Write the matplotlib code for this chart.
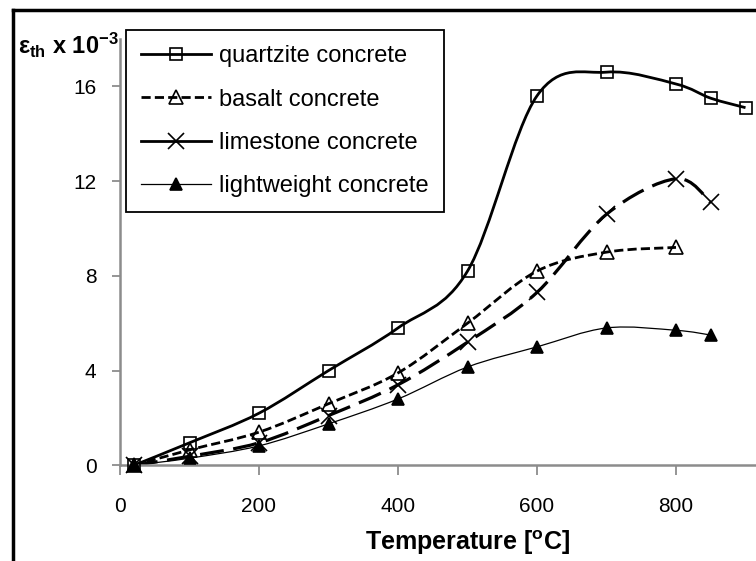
import numpy as np
import matplotlib
matplotlib.use("Agg")
import matplotlib.pyplot as plt
from matplotlib.path import Path
from matplotlib.patches import PathPatch
from matplotlib.lines import Line2D

plt.rcParams.update({
    'font.family': ['Liberation Sans', 'DejaVu Sans'],
    'mathtext.fontset': 'custom',
    'mathtext.rm': 'Liberation Sans',
    'mathtext.bf': 'Liberation Sans:bold',
    'mathtext.it': 'Liberation Sans:italic',
})

# ---- data ----
temp_quartzite = [20, 100, 200, 300, 400, 500, 600, 700, 800, 850, 900]
eps_quartzite = [0.0, 0.95, 2.2, 4.0, 5.8, 8.2, 15.6, 16.6, 16.1, 15.5, 15.1]

temp_basalt = [20, 100, 200, 300, 400, 500, 600, 700, 800]
eps_basalt = [0.0, 0.65, 1.4, 2.6, 3.9, 6.0, 8.2, 9.0, 9.2]

temp_limestone = [20, 100, 200, 300, 400, 500, 600, 700, 800, 850]
eps_limestone = [0.0, 0.38, 0.95, 2.1, 3.4, 5.2, 7.3, 10.6, 12.1, 11.1]

temp_light = [20, 100, 200, 300, 400, 500, 600, 700, 800, 850]
eps_light = [0.0, 0.3, 0.82, 1.75, 2.8, 4.15, 5.0, 5.8, 5.7, 5.5]

labels = ["quartzite concrete", "basalt concrete",
          "limestone concrete", "lightweight concrete"]

x_ticks = [0, 200, 400, 600, 800]
y_ticks = [0, 4, 8, 12, 16]


def smooth_path(xs, ys):
    # Excel-like smoothed line: Catmull-Rom segments as cubic Bezier
    pts = np.column_stack([xs, ys]).astype(float)
    n = len(pts)
    verts = [pts[0]]
    codes = [Path.MOVETO]
    for i in range(n - 1):
        p0 = pts[max(i - 1, 0)]
        p1 = pts[i]
        p2 = pts[i + 1]
        p3 = pts[min(i + 2, n - 1)]
        verts += [p1 + (p2 - p0) / 6.0, p2 - (p3 - p1) / 6.0, p2]
        codes += [Path.CURVE4] * 3
    return Path(verts, codes)


styles = [
    dict(lw=2.0, ls='-', marker='s', ms=9, mfc='none', leg_ls='-'),
    dict(lw=2.0, ls=(0, (3.3, 1.5)), marker='^', ms=10, mfc='none',
         leg_ls=(0, (3.3, 1.5))),
    dict(lw=2.3, ls=(0, (7.5, 3.0)), marker='x', ms=11, mfc='none', leg_ls='-'),
    dict(lw=0.9, ls='-', marker='^', ms=9, mfc='black', leg_ls='-'),
]
series = [(temp_quartzite, eps_quartzite), (temp_basalt, eps_basalt),
          (temp_limestone, eps_limestone), (temp_light, eps_light)]

W, H = 756, 561
fig = plt.figure(figsize=(W / 100, H / 100), dpi=100)
ax = fig.add_axes([120 / W, 1 - 465.3 / H, (815 - 120) / W, (465.3 - 39) / H])

handles = []
for (tx, ey), st, lab in zip(series, styles, labels):
    patch = PathPatch(smooth_path(tx, ey), fill=False, edgecolor='black',
                      lw=st['lw'], linestyle=st['ls'], capstyle='butt', zorder=2)
    ax.add_patch(patch)
    ax.plot(tx, ey, ls='none', marker=st['marker'], ms=st['ms'],
            mfc=st['mfc'], mec='black', mew=1.2, zorder=3, clip_on=False)
    handles.append(Line2D([], [], color='black', lw=min(st['lw'], 2.0),
                          ls=st['leg_ls'], marker=st['marker'], ms=st['ms'],
                          mfc=st['mfc'], mec='black', mew=1.2))

ax.set_xlim(0, 1000)
ax.set_ylim(0, 18)
ax.set_xticks(x_ticks)
ax.set_yticks(y_ticks)
ax.tick_params(axis='x', labelsize=15, length=7, width=1.3, color='#8c8c8c', pad=16)
ax.tick_params(axis='y', labelsize=15, length=6, width=1.3, color='#8c8c8c', pad=11)

for s in ["top", "right"]:
    ax.spines[s].set_visible(False)
for s in ["left", "bottom"]:
    ax.spines[s].set_color('#8c8c8c')
    ax.spines[s].set_linewidth(1.8)

ax.set_xlabel(r'Temperature [$^{\mathbf{o}}$C]', fontsize=18,
              fontweight='bold', labelpad=9)
fig.text(18 / W, 1 - 45 / H, r'$\mathbf{ε_{th}\ x\ 10^{-3}}$',
         fontsize=17, ha='left', va='center')

leg = ax.legend(handles, labels, loc='upper left',
                bbox_to_anchor=(126 / W, 1 - 30 / H),
                bbox_transform=fig.transFigure, borderaxespad=0,
                fontsize=17, handlelength=2.95, handletextpad=0.35,
                labelspacing=0.9, borderpad=0.65, fancybox=False,
                framealpha=1, edgecolor='black')
leg.get_frame().set_linewidth(1.3)

# outer frame of the figure (only left and top show in the crop)
fig.add_artist(Line2D([13 / W, 13 / W], [0, 1 - 10 / H], color='black',
                      lw=2.5, transform=fig.transFigure))
fig.add_artist(Line2D([13 / W, 1], [1 - 10 / H, 1 - 10 / H], color='black',
                      lw=2.5, transform=fig.transFigure))

fig.savefig("out.png", dpi=100)
